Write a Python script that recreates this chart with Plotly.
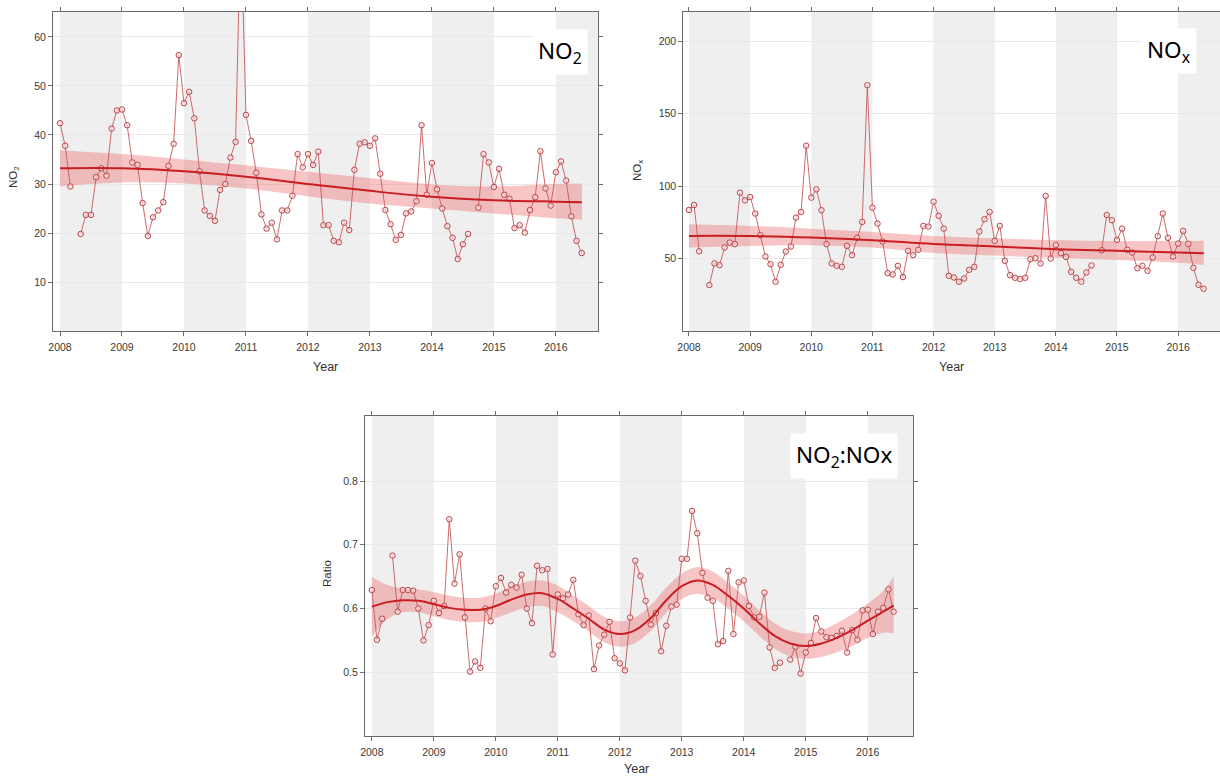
import plotly.graph_objects as go

W, H = 1220, 778

# ---------------- data ----------------
year_ticks = [2008, 2009, 2010, 2011, 2012, 2013, 2014, 2015, 2016]

no2_2008 = [42.4, 37.8, 29.5, None, 19.8, 23.7, 23.7, 31.4, 33.2, 31.7, 41.3, 45.0]
no2_2009 = [45.2, 42.0, 34.4, 33.9, 26.1, 19.4, 23.2, 24.6, 26.3, 33.7, 38.2, 56.3]
no2_2010 = [46.5, 48.8, 43.4, 32.6, 24.6, 23.5, 22.5, 28.8, 30.0, 35.4, 38.6, 84.0]
no2_2011 = [44.1, 38.8, 32.3, 23.8, 20.9, 22.1, 18.7, 24.6, 24.6, 27.6, 36.1, 33.4]
no2_2012 = [36.1, 33.9, 36.6, 21.6, 21.6, 18.4, 18.1, 22.1, 20.6, 32.9, 38.2, 38.5]
no2_2013 = [37.8, 39.3, 32.1, 24.7, 21.8, 18.6, 19.6, 24.0, 24.4, 26.5, 42.0, 27.8]
no2_2014 = [34.3, 28.9, 25.0, 21.4, 19.0, 14.7, 17.7, 19.8, None, 25.2, 36.1, 34.4]
no2_2015 = [29.4, 33.1, 27.8, 27.0, 21.0, 21.6, 20.1, 24.7, 27.3, 36.7, 29.1, 25.6]
no2_2016 = [32.4, 34.6, 30.7, 23.4, 18.4, 15.9]

nox_2008 = [83.5, 86.9, 55.0, None, 31.7, 46.6, 45.4, 57.6, 61.0, 59.9, 95.4, 90.1]
nox_2009 = [92.4, 81.0, 66.1, 51.4, 46.1, 34.0, 45.6, 54.8, 58.3, 78.2, 82.1, 127.8]
nox_2010 = [92.0, 97.7, 83.3, 59.9, 46.6, 45.0, 44.3, 58.7, 52.3, 64.2, 75.2, 169.5]
nox_2011 = [85.1, 74.1, 61.7, 39.9, 39.0, 45.0, 37.2, 55.3, 52.3, 56.0, 72.5, 72.0]
nox_2012 = [89.2, 79.4, 70.6, 38.1, 36.9, 34.0, 36.2, 42.2, 44.3, 68.6, 77.1, 82.1]
nox_2013 = [62.2, 72.5, 48.4, 38.5, 36.7, 35.8, 36.7, 49.5, 50.2, 46.6, 93.1, 50.0]
nox_2014 = [59.2, 53.7, 51.1, 40.8, 36.7, 34.0, 40.4, 45.2, None, 55.7, 80.0, 76.4]
nox_2015 = [62.8, 70.6, 56.0, 54.1, 43.3, 45.0, 41.5, 50.7, 65.4, 81.0, 64.2, 51.4]
nox_2016 = [60.3, 69.0, 60.1, 43.6, 31.9, 29.1]

ratio_2008 = [0.629, 0.551, 0.584, None, 0.683, 0.595, 0.629, 0.629, 0.628, 0.600, 0.550, 0.574]
ratio_2009 = [0.612, 0.593, 0.604, 0.740, 0.639, 0.685, 0.586, 0.501, 0.517, 0.507, 0.600, 0.580]
ratio_2010 = [0.635, 0.648, 0.625, 0.637, 0.633, 0.653, 0.600, 0.577, 0.667, 0.660, 0.662, 0.528]
ratio_2011 = [0.622, 0.616, 0.622, 0.645, 0.591, 0.574, 0.589, 0.505, 0.542, 0.559, 0.579, 0.522]
ratio_2012 = [0.514, 0.503, 0.586, 0.675, 0.651, 0.612, 0.575, 0.593, 0.533, 0.573, 0.603, 0.606]
ratio_2013 = [0.678, 0.678, 0.753, 0.718, 0.656, 0.617, 0.612, 0.544, 0.549, 0.659, 0.560, 0.641]
ratio_2014 = [0.644, 0.604, 0.586, 0.587, 0.625, 0.539, 0.507, 0.515, None, 0.520, 0.540, 0.498]
ratio_2015 = [0.531, 0.546, 0.585, 0.564, 0.555, 0.554, 0.557, 0.565, 0.531, 0.566, 0.551, 0.597]
ratio_2016 = [0.598, 0.560, 0.595, 0.601, 0.630, 0.595]

# smooth trends and confidence bands
trend_x_yearly = [2008, 2009, 2010, 2011, 2012, 2013, 2014, 2015, 2016, 2016.42]
no2_trend = [33.2, 33.2, 32.6, 31.5, 30.0, 28.6, 27.4, 26.7, 26.4, 26.3]
no2_upper = [36.9, 36.1, 35.0, 33.8, 32.5, 31.2, 29.9, 29.5, 30.0, 30.1]
no2_lower = [29.5, 30.3, 30.1, 29.1, 27.5, 26.0, 25.0, 24.0, 23.0, 22.7]

nox_trend = [65.6, 65.5, 64.4, 62.6, 60.0, 58.3, 56.4, 55.3, 54.1, 53.7]
nox_upper = [73.6, 72.5, 70.6, 68.3, 65.6, 64.0, 62.7, 62.0, 62.0, 62.2]
nox_lower = [57.6, 58.7, 59.2, 57.6, 53.8, 52.0, 50.5, 49.0, 47.0, 45.6]

trend_x_quarterly = [2008.0, 2008.25, 2008.5, 2008.75, 2009.0, 2009.25, 2009.5, 2009.75,
                     2010.0, 2010.25, 2010.5, 2010.75, 2011.0, 2011.25, 2011.5, 2011.75,
                     2012.0, 2012.25, 2012.5, 2012.75, 2013.0, 2013.25, 2013.5, 2013.75,
                     2014.0, 2014.25, 2014.5, 2014.75, 2015.0, 2015.25, 2015.5, 2015.75,
                     2016.0, 2016.25, 2016.42]
ratio_trend = [0.603, 0.610, 0.613, 0.612, 0.607, 0.601, 0.598, 0.598,
               0.604, 0.614, 0.622, 0.624, 0.615, 0.600, 0.584, 0.567,
               0.560, 0.566, 0.585, 0.613, 0.635, 0.644, 0.637, 0.620,
               0.600, 0.577, 0.557, 0.545, 0.541, 0.545, 0.554, 0.566,
               0.581, 0.595, 0.605]
ratio_upper = [0.650, 0.637, 0.632, 0.630, 0.626, 0.620, 0.617, 0.617,
               0.623, 0.634, 0.642, 0.644, 0.636, 0.620, 0.604, 0.587,
               0.580, 0.586, 0.605, 0.633, 0.655, 0.665, 0.658, 0.640,
               0.620, 0.597, 0.577, 0.565, 0.561, 0.566, 0.577, 0.591,
               0.608, 0.628, 0.650]
ratio_lower = [0.556, 0.583, 0.594, 0.594, 0.588, 0.582, 0.579, 0.579,
               0.585, 0.594, 0.602, 0.604, 0.594, 0.580, 0.564, 0.547,
               0.540, 0.546, 0.565, 0.593, 0.615, 0.623, 0.616, 0.600,
               0.580, 0.557, 0.537, 0.525, 0.521, 0.524, 0.531, 0.541,
               0.554, 0.562, 0.561]

no2 = no2_2008 + no2_2009 + no2_2010 + no2_2011 + no2_2012 + no2_2013 + no2_2014 + no2_2015 + no2_2016
nox = nox_2008 + nox_2009 + nox_2010 + nox_2011 + nox_2012 + nox_2013 + nox_2014 + nox_2015 + nox_2016
ratio = ratio_2008 + ratio_2009 + ratio_2010 + ratio_2011 + ratio_2012 + ratio_2013 + ratio_2014 + ratio_2015 + ratio_2016
month_x = [2008 + i / 12 for i in range(len(no2))]

# ---------------- style ----------------
TICK_FONT = dict(family="Liberation Sans, Arial, sans-serif", size=10.5, color="#3a3a3a")
XTITLE_FONT = dict(family="Liberation Sans, Arial, sans-serif", size=12.5, color="#333333")
YTITLE_FONT = dict(family="Liberation Sans, Arial, sans-serif", size=11.5, color="#333333")
LABEL_FONT = dict(family="Noto Sans, Open Sans, sans-serif", size=22.5, color="#000000")
GRAY_BAND = "#efefef"
POINT_COLOR = "#b8474a"
LINE_COLOR = "#c65a5c"
TREND_COLOR = "#c81e23"
BAND_FILL = "rgba(236, 110, 110, 0.40)"

# panel geometry in pixels: left, right, top, bottom
panels = [
    dict(key="", px=(53, 598, 12, 331), xr=(2007.887, 2016.68), yr=(0, 65.1),
         yt=[10, 20, 30, 40, 50, 60], y=no2, tx=trend_x_yearly, tr=no2_trend, up=no2_upper, lo=no2_lower,
         ytitle="NO<sub>2</sub>", ytitle_px=(14, 177), xtitle_px=(325, 367),
         label="NO<sub>2</sub>", label_px=(588, 52)),
    dict(key="2", px=(683.3, 1222, 12, 331), xr=(2007.907, 2016.685), yr=(0, 220),
         yt=[50, 100, 150, 200], y=nox, tx=trend_x_yearly, tr=nox_trend, up=nox_upper, lo=nox_lower,
         ytitle="NO<sub>x</sub>", ytitle_px=(638, 171), xtitle_px=(951, 367),
         label="NO<sub>x</sub>", label_px=(1197, 51)),
    dict(key="3", px=(365, 913, 416, 736), xr=(2007.89, 2016.73), yr=(0.4, 0.902),
         yt=[0.5, 0.6, 0.7, 0.8], y=ratio, tx=trend_x_quarterly, tr=ratio_trend, up=ratio_upper, lo=ratio_lower,
         ytitle="Ratio", ytitle_px=(327, 574), xtitle_px=(636, 769),
         label="NO<sub>2</sub>:NOx", label_px=(898, 456)),
]

fig = go.Figure()
shapes = []
annotations = []
gray_years = [2008, 2010, 2012, 2014]

for p in panels:
    k = p["key"]
    xa, ya = "x" + k, "y" + k
    l, r, t, b = p["px"]
    x0r, x1r = p["xr"]
    gray_ranges = [(s, s + 1) for s in gray_years] + [(2016, x1r)]
    for g0, g1 in gray_ranges:
        shapes.append(dict(type="rect", xref=xa, yref=ya + " domain", x0=g0, x1=g1, y0=0, y1=1,
                           fillcolor=GRAY_BAND, line=dict(width=0), layer="below"))
    fig.add_trace(go.Scatter(x=p["tx"], y=p["lo"], mode="lines", line=dict(width=0, shape="spline"),
                             xaxis=xa, yaxis=ya, showlegend=False, hoverinfo="skip"))
    fig.add_trace(go.Scatter(x=p["tx"], y=p["up"], mode="lines", line=dict(width=0, shape="spline"),
                             fill="tonexty", fillcolor=BAND_FILL,
                             xaxis=xa, yaxis=ya, showlegend=False, hoverinfo="skip"))
    fig.add_trace(go.Scatter(x=month_x, y=p["y"], mode="lines+markers", connectgaps=False,
                             line=dict(color=LINE_COLOR, width=0.9),
                             marker=dict(symbol="circle", size=5.5, color="rgba(255,225,225,0.6)",
                                         line=dict(color=POINT_COLOR, width=1)),
                             xaxis=xa, yaxis=ya, showlegend=False))
    fig.add_trace(go.Scatter(x=p["tx"], y=p["tr"], mode="lines",
                             line=dict(color=TREND_COLOR, width=2, shape="spline"),
                             xaxis=xa, yaxis=ya, showlegend=False))

    xdom = [l / W, min(r / W, 1.0)]
    ydom = [1 - b / H, 1 - t / H]
    axis_common = dict(showline=True, linecolor="#6a6a6a", linewidth=1, mirror="allticks",
                       ticks="outside", ticklen=4, tickcolor="#6a6a6a", tickfont=TICK_FONT,
                       zeroline=False, automargin=False)
    fig.update_layout(**{
        "xaxis" + k: dict(domain=xdom, range=list(p["xr"]), tickvals=year_ticks,
                          ticktext=[str(v) for v in year_ticks], showgrid=False,
                          ticklabelstandoff=2, anchor=ya, **axis_common),
        "yaxis" + k: dict(domain=ydom, range=list(p["yr"]), tickvals=p["yt"], showgrid=True,
                          gridcolor="#e9e9e9", gridwidth=1, anchor=xa, **axis_common),
    })
    annotations.append(dict(text=p["ytitle"], x=p["ytitle_px"][0] / W, y=1 - p["ytitle_px"][1] / H,
                            xref="paper", yref="paper", showarrow=False, textangle=-90,
                            font=YTITLE_FONT, xanchor="center", yanchor="middle"))
    annotations.append(dict(text="Year", x=p["xtitle_px"][0] / W, y=1 - p["xtitle_px"][1] / H,
                            xref="paper", yref="paper", showarrow=False,
                            font=XTITLE_FONT, xanchor="center", yanchor="middle"))
    annotations.append(dict(text=p["label"], x=p["label_px"][0] / W, y=1 - p["label_px"][1] / H,
                            xref="paper", yref="paper", showarrow=False, font=LABEL_FONT,
                            xanchor="right", yanchor="middle", bgcolor="white", borderpad=5))

fig.update_layout(width=W, height=H, margin=dict(l=0, r=0, t=0, b=0, autoexpand=False),
                  paper_bgcolor="white", plot_bgcolor="white",
                  shapes=shapes, annotations=annotations, showlegend=False)

fig.write_html("out.html")
